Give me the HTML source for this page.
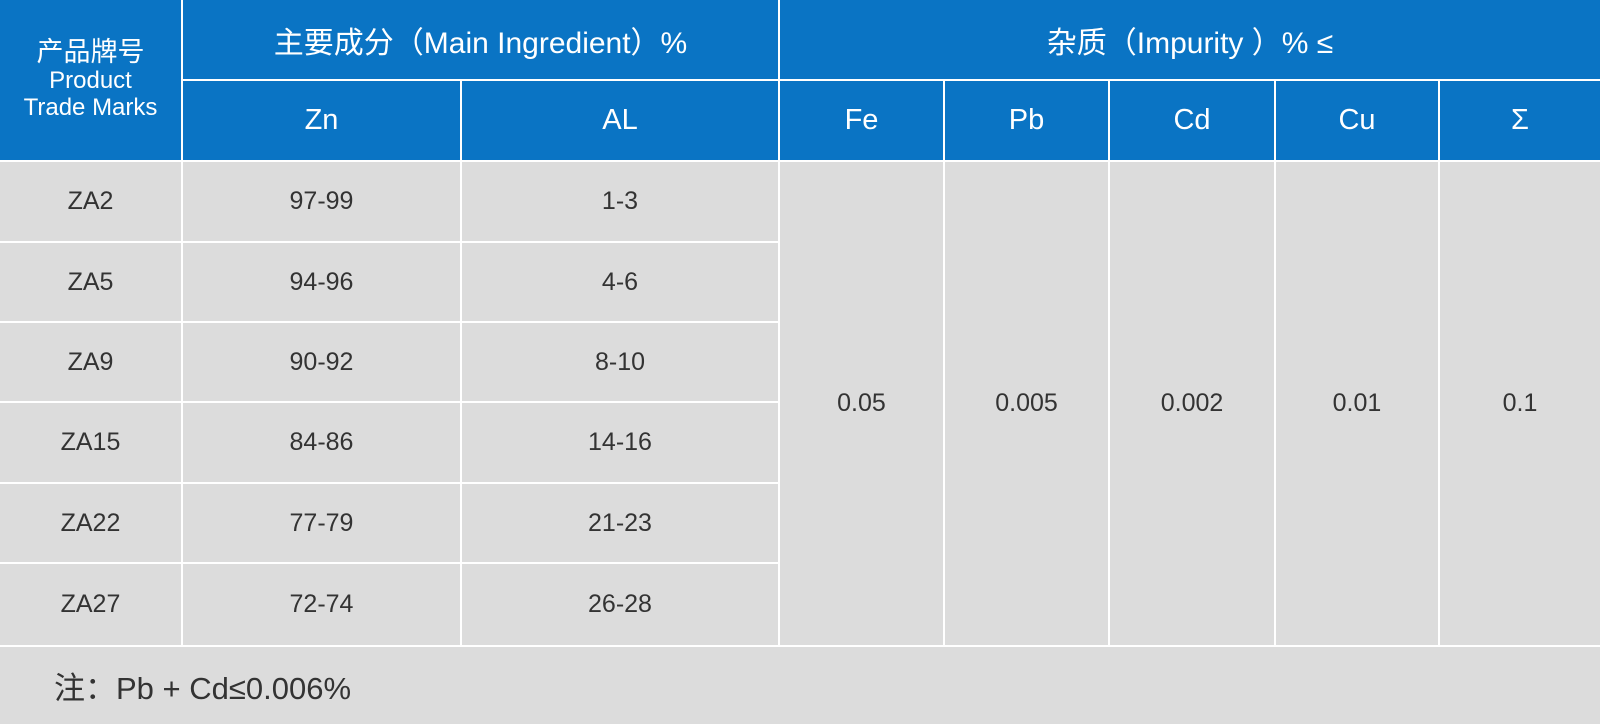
<!DOCTYPE html><html><head><meta charset="utf-8"><style>
body{margin:0;width:1600px;height:727px;background:#fff;overflow:hidden;font-family:"Liberation Sans","Noto Sans CJK SC",sans-serif}
.c{position:absolute;display:flex;align-items:center;justify-content:center;text-align:center;box-sizing:border-box}
.h{background:#0a74c4;color:#fff;font-size:29px}
.b{background:#dcdcdc;color:#333;font-size:25px}
</style></head><body>
<div style="position:relative;width:1600px;height:727px">
<div class="c h" style="left:0;top:0;width:181px;height:160px;font-size:24px;line-height:27px"><div><span style="font-size:27px">产品牌号</span><br>Product<br>Trade Marks</div></div>
<div class="c h" style="left:183px;top:0;width:595px;height:79px;font-size:30px">主要成分（Main Ingredient）%</div>
<div class="c h" style="left:780px;top:0;width:820px;height:79px;font-size:30px">杂质（Impurity ）% ≤</div>
<div class="c h" style="left:183px;top:81px;width:277px;height:79px">Zn</div>
<div class="c h" style="left:462px;top:81px;width:316px;height:79px">AL</div>
<div class="c h" style="left:780px;top:81px;width:163px;height:79px">Fe</div>
<div class="c h" style="left:945px;top:81px;width:163px;height:79px">Pb</div>
<div class="c h" style="left:1110px;top:81px;width:164px;height:79px">Cd</div>
<div class="c h" style="left:1276px;top:81px;width:162px;height:79px">Cu</div>
<div class="c h" style="left:1440px;top:81px;width:160px;height:79px">Σ</div>
<div id="rows"></div>
<div class="c b" style="left:780px;top:162px;width:163px;height:483px">0.05</div>
<div class="c b" style="left:945px;top:162px;width:163px;height:483px">0.005</div>
<div class="c b" style="left:1110px;top:162px;width:164px;height:483px">0.002</div>
<div class="c b" style="left:1276px;top:162px;width:162px;height:483px">0.01</div>
<div class="c b" style="left:1440px;top:162px;width:160px;height:483px">0.1</div>
<div class="c b" style="left:0;top:647px;width:1600px;height:77px;justify-content:flex-start;padding-left:54px;font-size:31px">注：Pb + Cd≤0.006%</div>
<script>
var d=[["ZA2","97-99","1-3"],["ZA5","94-96","4-6"],["ZA9","90-92","8-10"],["ZA15","84-86","14-16"],["ZA22","77-79","21-23"],["ZA27","72-74","26-28"]];
var tops=[162,243,323,403,484,564],bots=[241,321,401,482,562,645],h="";
d.forEach(function(r,i){var t=tops[i],hh=bots[i]-t;
h+='<div class="c b" style="left:0;top:'+t+'px;width:181px;height:'+hh+'px">'+r[0]+'</div>';
h+='<div class="c b" style="left:183px;top:'+t+'px;width:277px;height:'+hh+'px">'+r[1]+'</div>';
h+='<div class="c b" style="left:462px;top:'+t+'px;width:316px;height:'+hh+'px">'+r[2]+'</div>';});
document.getElementById("rows").innerHTML=h;
</script>
</div></body></html>
